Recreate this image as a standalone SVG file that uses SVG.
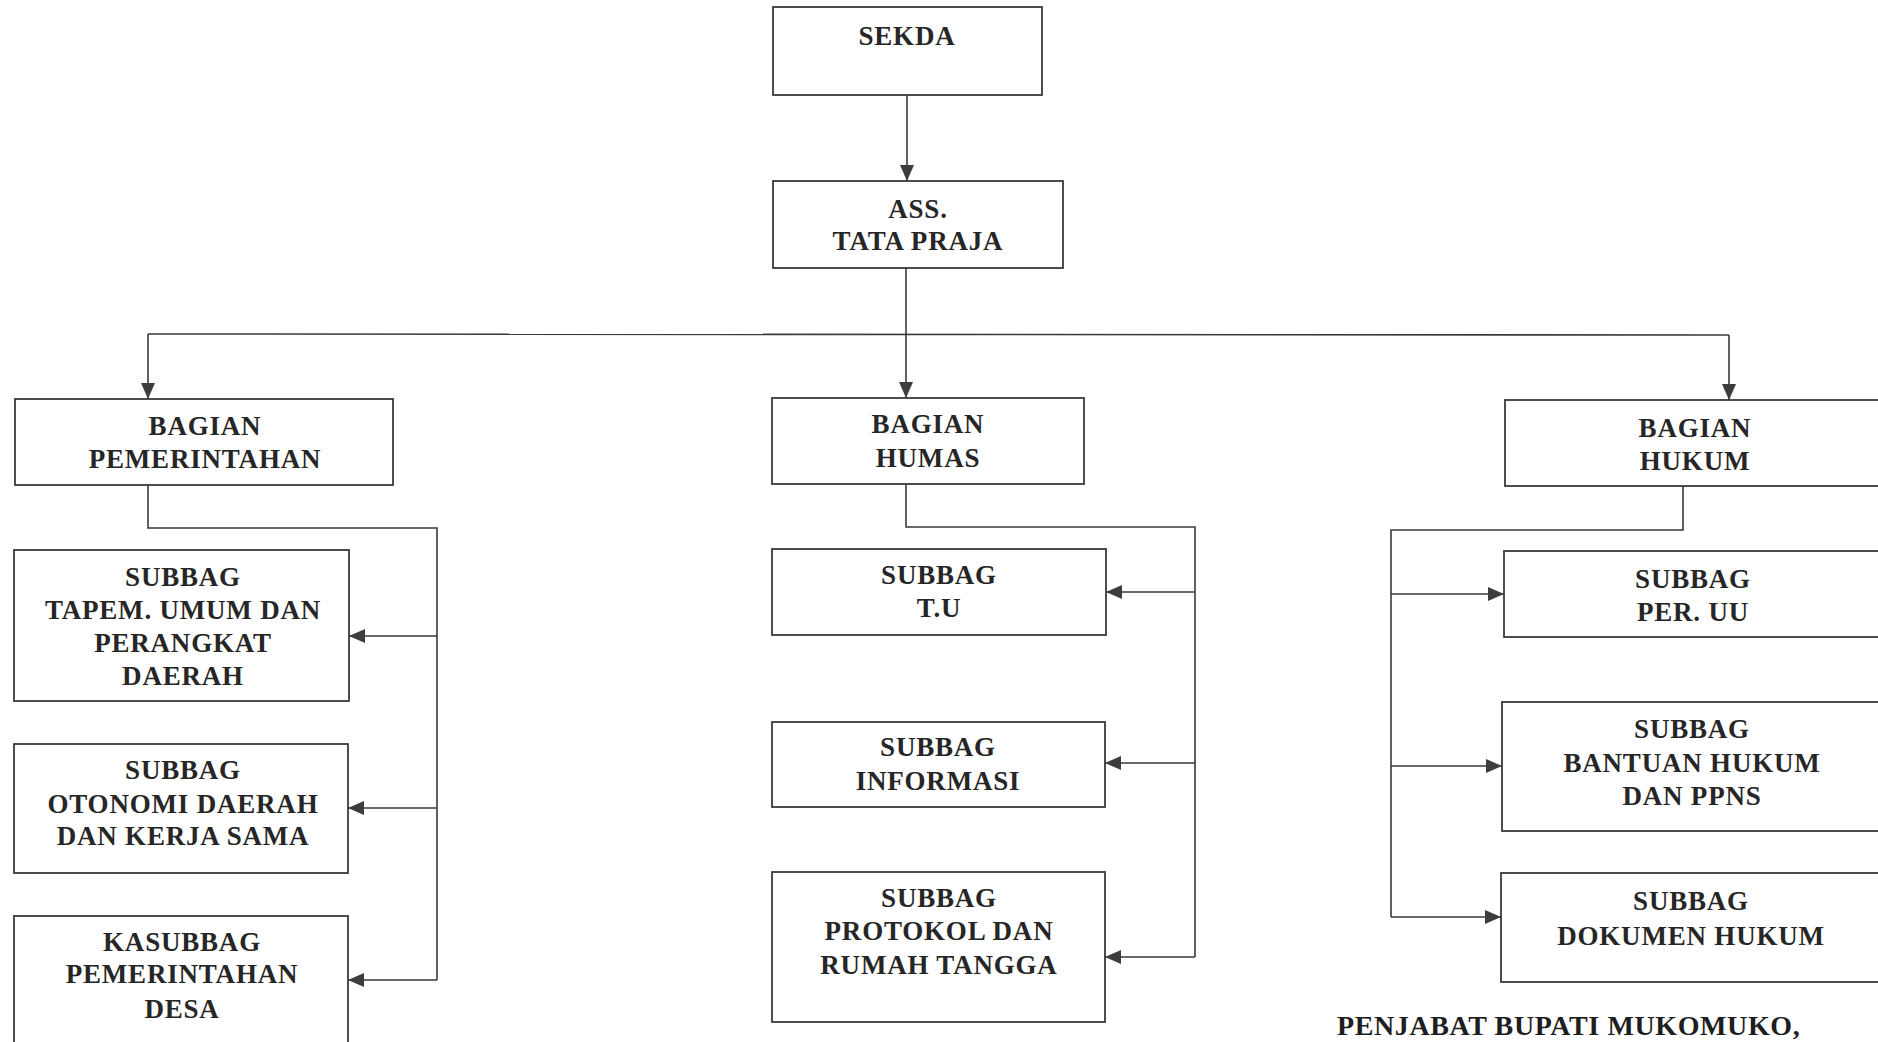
<svg xmlns="http://www.w3.org/2000/svg" width="1878" height="1042" viewBox="0 0 1878 1042">
<style>
.box{fill:#fff;stroke:#3a3a3a;stroke-width:1.8}
.t{font-family:"Liberation Serif","Times New Roman",serif;font-weight:bold;font-size:27px;letter-spacing:0.8px;fill:#262626;text-anchor:middle}
.c{fill:none;stroke:#3a3a3a;stroke-width:1.6}
.sig{font-family:"Liberation Serif","Times New Roman",serif;font-weight:bold;font-size:28px;letter-spacing:0.6px;fill:#1e1e1e}
</style>
<defs>
<marker id="ah" markerUnits="userSpaceOnUse" markerWidth="18" markerHeight="16" refX="16" refY="8" orient="auto">
<path d="M0,1 L16,8 L0,15 Z" fill="#3d3d3d"/>
</marker>
</defs>
<rect width="1878" height="1042" fill="#fff"/>
<g id="connectors">
<line class="c" x1="907" y1="95" x2="907" y2="181" marker-end="url(#ah)"/>
<polyline class="c" points="906,268 906,334"/>
<line class="c" x1="148" y1="334" x2="1729" y2="335"/>
<line class="c" x1="148" y1="334" x2="148" y2="399" marker-end="url(#ah)"/>
<line class="c" x1="906" y1="334" x2="906" y2="398" marker-end="url(#ah)"/>
<line class="c" x1="1729" y1="335" x2="1729" y2="400" marker-end="url(#ah)"/>
<polyline class="c" points="148,485 148,528 437,528 437,980"/>
<line class="c" x1="437" y1="636" x2="349" y2="636" marker-end="url(#ah)"/>
<line class="c" x1="437" y1="808" x2="348" y2="808" marker-end="url(#ah)"/>
<line class="c" x1="437" y1="980" x2="348" y2="980" marker-end="url(#ah)"/>
<polyline class="c" points="906,484 906,527 1195,527 1195,957"/>
<line class="c" x1="1195" y1="592" x2="1106" y2="592" marker-end="url(#ah)"/>
<line class="c" x1="1195" y1="763" x2="1105" y2="763" marker-end="url(#ah)"/>
<line class="c" x1="1195" y1="957" x2="1105" y2="957" marker-end="url(#ah)"/>
<polyline class="c" points="1683,486 1683,530 1391,530 1391,917"/>
<line class="c" x1="1391" y1="594" x2="1504" y2="594" marker-end="url(#ah)"/>
<line class="c" x1="1391" y1="766" x2="1502" y2="766" marker-end="url(#ah)"/>
<line class="c" x1="1391" y1="917" x2="1501" y2="917" marker-end="url(#ah)"/>
</g>
<g id="sekda"><rect class="box" x="773" y="7" width="269" height="88"/><text class="t" x="907" y="45">SEKDA</text></g>
<g id="ass-tata-praja"><rect class="box" x="773" y="181" width="290" height="87"/><text class="t" x="918" y="218">ASS.</text><text class="t" x="918" y="250">TATA PRAJA</text></g>
<g id="bagian-pemerintahan"><rect class="box" x="15" y="399" width="378" height="86"/><text class="t" x="205" y="435">BAGIAN</text><text class="t" x="205" y="468">PEMERINTAHAN</text></g>
<g id="bagian-humas"><rect class="box" x="772" y="398" width="312" height="86"/><text class="t" x="928" y="433">BAGIAN</text><text class="t" x="928" y="467">HUMAS</text></g>
<g id="bagian-hukum"><rect class="box" x="1505" y="400" width="390" height="86"/><text class="t" x="1695" y="437">BAGIAN</text><text class="t" x="1695" y="470">HUKUM</text></g>
<g id="subbag-tapem"><rect class="box" x="14" y="550" width="335" height="151"/><text class="t" x="183" y="586">SUBBAG</text><text class="t" x="183" y="619">TAPEM. UMUM DAN</text><text class="t" x="183" y="652">PERANGKAT</text><text class="t" x="183" y="685">DAERAH</text></g>
<g id="subbag-otonomi"><rect class="box" x="14" y="744" width="334" height="129"/><text class="t" x="183" y="779">SUBBAG</text><text class="t" x="183" y="813">OTONOMI DAERAH</text><text class="t" x="183" y="845">DAN KERJA SAMA</text></g>
<g id="kasubbag-desa"><rect class="box" x="14" y="916" width="334" height="140"/><text class="t" x="182" y="951">KASUBBAG</text><text class="t" x="182" y="983">PEMERINTAHAN</text><text class="t" x="182" y="1018">DESA</text></g>
<g id="subbag-tu"><rect class="box" x="772" y="549" width="334" height="86"/><text class="t" x="939" y="584">SUBBAG</text><text class="t" x="939" y="617">T.U</text></g>
<g id="subbag-informasi"><rect class="box" x="772" y="722" width="333" height="85"/><text class="t" x="938" y="756">SUBBAG</text><text class="t" x="938" y="790">INFORMASI</text></g>
<g id="subbag-protokol"><rect class="box" x="772" y="872" width="333" height="150"/><text class="t" x="939" y="907">SUBBAG</text><text class="t" x="939" y="940">PROTOKOL DAN</text><text class="t" x="939" y="974">RUMAH TANGGA</text></g>
<g id="subbag-per-uu"><rect class="box" x="1504" y="551" width="391" height="86"/><text class="t" x="1693" y="588">SUBBAG</text><text class="t" x="1693" y="621">PER. UU</text></g>
<g id="subbag-bantuan"><rect class="box" x="1502" y="702" width="393" height="129"/><text class="t" x="1692" y="738">SUBBAG</text><text class="t" x="1692" y="772">BANTUAN HUKUM</text><text class="t" x="1692" y="805">DAN PPNS</text></g>
<g id="subbag-dokumen"><rect class="box" x="1501" y="873" width="394" height="109"/><text class="t" x="1691" y="910">SUBBAG</text><text class="t" x="1691" y="945">DOKUMEN HUKUM</text></g>
<text class="sig" x="1337" y="1035">PENJABAT BUPATI MUKOMUKO,</text>
</svg>
